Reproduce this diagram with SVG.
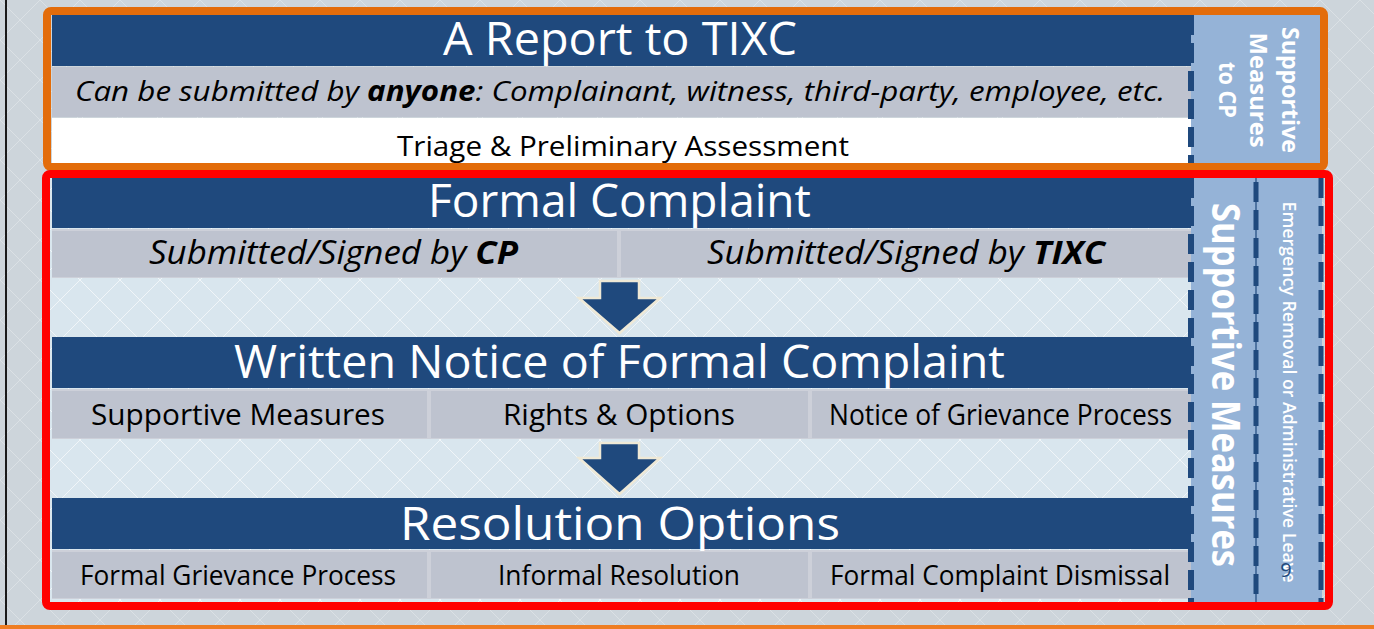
<svg xmlns="http://www.w3.org/2000/svg" width="1374" height="629" viewBox="0 0 1374 629">
<defs>
<style>
.bar{fill:#1f497d}
.cell{fill:#bec3cf}
.side{fill:#95b3d7}
.ttl{font-family:"Open Sans","Liberation Sans",sans-serif;font-size:46px;fill:#ffffff;text-anchor:middle}
.txt{font-family:"Open Sans","Liberation Sans",sans-serif;fill:#000000;text-anchor:middle}
.vt{font-family:"Open Sans","Liberation Sans",sans-serif;fill:#ffffff;text-anchor:middle}
.dash{fill:none;stroke:#1f497d;stroke-dasharray:20 8}
.arrow{fill:#1f497d;stroke:#efe9d6;stroke-width:2.5;stroke-linejoin:miter}
</style>
<pattern id="lat" width="40" height="40" patternUnits="userSpaceOnUse">
<path d="M0 0 L40 40 M40 0 L0 40" stroke="#ffffff" stroke-opacity="0.28" stroke-width="1" fill="none"/>
</pattern>
<pattern id="lat2" width="40" height="40" patternUnits="userSpaceOnUse">
<path d="M0 0 L40 40 M40 0 L0 40" stroke="#ffffff" stroke-opacity="0.6" stroke-width="1" fill="none"/>
</pattern>
</defs>

<g id="background">
<rect x="0" y="0" width="1374" height="629" fill="#cdd5db"/>
<rect x="0" y="0" width="1374" height="629" fill="url(#lat)"/>
<rect x="5" y="0" width="2" height="626" fill="#1a1a1a"/>
<rect x="0" y="625" width="1374" height="4" fill="#ee7d22"/>
</g>

<g id="report-box">
<rect x="52" y="15" width="1139" height="51" class="bar"/>
<rect x="52" y="67" width="1139" height="50" class="cell"/>
<rect x="52" y="118" width="1139" height="46" fill="#ffffff"/>
<text x="620" y="55" class="ttl" textLength="354" lengthAdjust="spacingAndGlyphs">A Report to TIXC</text>
<text x="620" y="101" class="txt" font-size="28" font-style="italic" textLength="1090" lengthAdjust="spacingAndGlyphs">Can be submitted by <tspan font-weight="bold">anyone</tspan>: Complainant, witness, third-party, employee, etc.</text>
<text x="623" y="156" class="txt" font-size="28" textLength="452" lengthAdjust="spacingAndGlyphs">Triage &amp; Preliminary Assessment</text>
</g>

<g id="supportive-measures-to-cp">
<rect x="1191" y="15" width="131" height="149" class="side"/>
<line x1="1191" y1="15" x2="1191" y2="164" class="dash" stroke-width="6"/>
<text transform="translate(1282,90) rotate(90)" class="vt" font-size="23" font-weight="bold" textLength="126" lengthAdjust="spacingAndGlyphs">Supportive</text>
<text transform="translate(1250,90) rotate(90)" class="vt" font-size="23" font-weight="bold" textLength="115" lengthAdjust="spacingAndGlyphs">Measures</text>
<text transform="translate(1219,90) rotate(90)" class="vt" font-size="23" font-weight="bold" textLength="56" lengthAdjust="spacingAndGlyphs">to CP</text>
</g>

<rect x="47" y="11" width="1277" height="156" rx="4" fill="none" stroke="#e36c0a" stroke-width="8"/>

<g id="red-area-fill">
<rect x="50" y="178" width="1141" height="426" fill="#d9e6ee"/>
<rect x="50" y="178" width="1141" height="426" fill="url(#lat2)"/>
</g>

<g id="formal-complaint">
<rect x="52" y="178" width="1139" height="50" class="bar"/>
<rect x="52" y="229" width="1139" height="49" fill="#cdd0d9"/>
<rect x="52" y="231" width="565" height="46" class="cell"/>
<rect x="621" y="231" width="570" height="46" class="cell"/>
<text x="619.5" y="217" class="ttl" textLength="383" lengthAdjust="spacingAndGlyphs">Formal Complaint</text>
<text x="333.5" y="264" class="txt" font-size="32" font-style="italic" textLength="369" lengthAdjust="spacingAndGlyphs">Submitted/Signed by <tspan font-weight="bold">CP</tspan></text>
<text x="906" y="264" class="txt" font-size="32" font-style="italic" textLength="398" lengthAdjust="spacingAndGlyphs">Submitted/Signed by <tspan font-weight="bold">TIXC</tspan></text>
</g>

<g id="written-notice">
<rect x="52" y="337" width="1139" height="51" class="bar"/>
<rect x="52" y="389" width="1139" height="50" fill="#cdd0d9"/>
<rect x="52" y="391" width="375" height="47" class="cell"/>
<rect x="431" y="391" width="377" height="47" class="cell"/>
<rect x="812" y="391" width="379" height="47" class="cell"/>
<text x="619.5" y="378" class="ttl" textLength="771" lengthAdjust="spacingAndGlyphs">Written Notice of Formal Complaint</text>
<text x="238" y="425" class="txt" font-size="29" textLength="294" lengthAdjust="spacingAndGlyphs">Supportive Measures</text>
<text x="619" y="425" class="txt" font-size="29" textLength="232" lengthAdjust="spacingAndGlyphs">Rights &amp; Options</text>
<text x="1000.5" y="425" class="txt" font-size="29" textLength="343" lengthAdjust="spacingAndGlyphs">Notice of Grievance Process</text>
</g>

<g id="resolution-options">
<rect x="52" y="498" width="1139" height="51" class="bar"/>
<rect x="52" y="550" width="1139" height="49" fill="#cdd0d9"/>
<rect x="52" y="552" width="375" height="46" class="cell"/>
<rect x="431" y="552" width="377" height="46" class="cell"/>
<rect x="812" y="552" width="379" height="46" class="cell"/>
<text x="620" y="540" class="ttl" textLength="440" lengthAdjust="spacingAndGlyphs">Resolution Options</text>
<text x="238" y="585" class="txt" font-size="27" textLength="316" lengthAdjust="spacingAndGlyphs">Formal Grievance Process</text>
<text x="619" y="585" class="txt" font-size="27" textLength="242" lengthAdjust="spacingAndGlyphs">Informal Resolution</text>
<text x="1000" y="585" class="txt" font-size="27" textLength="340" lengthAdjust="spacingAndGlyphs">Formal Complaint Dismissal</text>
</g>

<g id="supportive-measures">
<rect x="1191" y="178" width="65" height="426" class="side"/>
<text transform="translate(1212,385) rotate(90)" class="vt" font-size="40" font-weight="bold" textLength="364" lengthAdjust="spacingAndGlyphs">Supportive Measures</text>
</g>

<g id="emergency-removal">
<rect x="1256" y="178" width="66" height="426" class="side"/>
<text transform="translate(1283,392) rotate(90)" class="vt" font-size="18" font-weight="600" textLength="381" lengthAdjust="spacingAndGlyphs">Emergency Removal or Administrative Leave</text>
</g>

<g id="column-borders">
<line x1="1191" y1="178" x2="1191" y2="604" class="dash" stroke-width="6"/>
<line x1="1256" y1="178" x2="1256" y2="604" stroke="#1f497d" stroke-width="1.2"/>
<line x1="1256" y1="182" x2="1256" y2="604" class="dash" stroke-width="5"/>
<line x1="1321" y1="178" x2="1321" y2="604" class="dash" stroke-width="5"/>
</g>

<g id="slide-number">
<text x="1286" y="577" font-family="Open Sans, Liberation Sans, sans-serif" font-size="20" fill="#1f497d" text-anchor="middle">9</text>
</g>

<rect x="46" y="174" width="1283" height="432" rx="4" fill="none" stroke="#ff0000" stroke-width="8"/>

<g id="connectors">
<path class="arrow" d="M600 281 L639 281 L639 298 L660 298 L619.5 333 L579 298 L600 298 Z"/>
<path class="arrow" d="M600 443 L639 443 L639 458 L660 458 L619.5 494 L579 458 L600 458 Z"/>
</g>
</svg>
